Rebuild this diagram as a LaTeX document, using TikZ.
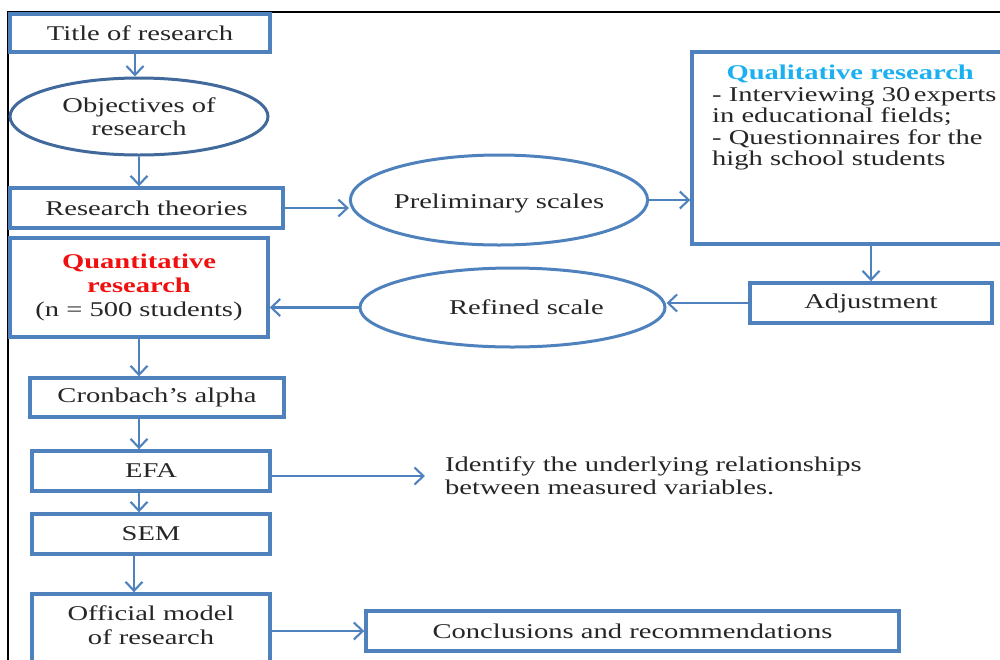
\documentclass[tikz,border=0pt]{standalone}
\usepackage{fontspec}
\setmainfont{Liberation Serif}[FakeStretch=1.36]
\usetikzlibrary{arrows.meta,shapes.geometric,calc}
\definecolor{lblue}{HTML}{4F81BD}
\definecolor{dblue}{HTML}{41699C}
\definecolor{qcyan}{HTML}{1CB0F0}
\definecolor{qred}{HTML}{F01010}
\begin{document}
\begin{tikzpicture}[x=1pt,y=-1pt,
  every node/.style={font=\fontsize{21}{23}\selectfont, text=black!85},
  box/.style={draw=lblue, line width=3.4pt, rectangle, inner sep=0pt},
  ell/.style={draw=lblue, line width=3pt, ellipse, inner sep=0pt},
  arr/.style={draw=lblue, line width=2.1pt, -{Straight Barb[length=9pt,width=17pt,line width=2.1pt]}}]
\useasboundingbox (0,0) rectangle (1000,659);
\clip (0,0) rectangle (1000,659);
% frame
\draw[black, line width=2pt] (1002,12) -- (8,12) -- (8,662);
% nodes
\node (title) [box, minimum width=260pt, minimum height=38pt] at (140,33) {Title of research};
\node (obj) [ell, draw=dblue, minimum width=258pt, minimum height=77pt, align=center] at (139,116.5) {Objectives of\\research};
\node (theo) [box, minimum width=273pt, minimum height=40pt] at (146.5,208) {Research theories};
\node (prel) [ell, minimum width=282pt, minimum height=90pt, text depth=-1pt] at (499,200) {\raisebox{-3pt}{Preliminary scales}};
\node (qual) [box, minimum width=312pt, minimum height=192pt] at (848,148) {};
\node (qtext) [anchor=north west, inner sep=0pt, align=left, font=\fontsize{21}{21.5}\selectfont] at (712,65)
  {\makebox[276pt]{\textcolor{qcyan}{\bfseries Qualitative research}}\\
   - Interviewing 30\,experts\\
   in educational fields;\\
   - Questionnaires for the\\
   high school students};
\node (adj) [box, minimum width=242pt, minimum height=40pt] at (871,303) {\raisebox{-2pt}{Adjustment}};
\node (ref) [ell, minimum width=305pt, minimum height=79pt] at (512.5,307.5) {\hspace*{28pt}Refined scale};
\node (quant) [box, minimum width=258pt, minimum height=99pt, align=center, font=\fontsize{21}{24}\selectfont] at (139,287.5)
  {\textcolor{qred}{\bfseries Quantitative}\\\textcolor{qred}{\bfseries research}\\(n = 500 students)};
\node (cron) [box, minimum width=254pt, minimum height=39pt] at (157,397.5) {Cronbach’s alpha};
\node (efa) [box, minimum width=238pt, minimum height=40pt] at (151,471) {EFA};
\node (sem) [box, minimum width=238pt, minimum height=40pt] at (151,534) {SEM};
\node (off) [box, minimum width=238pt, minimum height=80pt] at (151,634) {};
\node (offtext) [align=center, font=\fontsize{21}{24}\selectfont] at (151,625) {Official model\\of research};
\node (ident) [anchor=west, align=left, inner sep=0pt] at (445,476) {Identify the underlying relationships\\between measured variables.};
\node (conc) [box, minimum width=533pt, minimum height=40pt] at (632.5,631) {Conclusions and recommendations};
% connectors
\draw[arr] ([xshift=-5pt]title.south) -- ([xshift=-4pt]obj.north);
\draw[arr] (obj.south) -- (obj.south |- theo.north);
\draw[arr] (theo.east) -- (theo.east -| prel.west);
\draw[arr] (prel.east) -- (prel.east -| qual.west);
\draw[arr] (adj.north |- qual.south) -- (adj.north);
\draw[arr] (adj.west) -- (adj.west -| ref.east);
\draw[arr] (ref.west) -- (ref.west -| quant.east);
\draw[arr] (quant.south) -- (quant.south |- cron.north);
\draw[arr] (cron.south -| quant.south) -- (quant.south |- efa.north);
\draw[arr] (efa.south -| quant.south) -- (quant.south |- sem.north);
\draw[arr] ([xshift=-5pt]sem.south -| quant.south) -- ([xshift=-5pt]quant.south |- off.north);
\draw[arr] (efa.east |- ident.west) -- ([xshift=-20pt]ident.west);
\draw[arr] (off.east |- conc.west) -- (conc.west);
\end{tikzpicture}
\end{document}
